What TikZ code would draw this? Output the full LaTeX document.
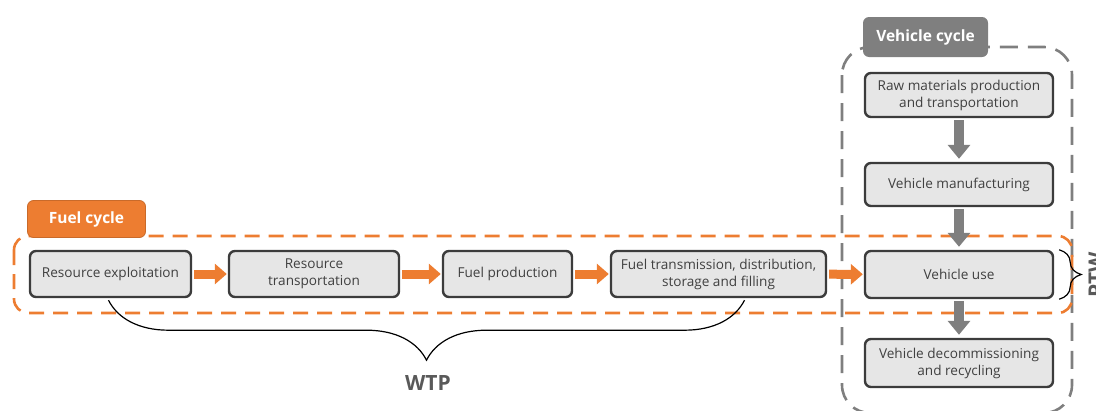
\documentclass[tikz,border=0pt]{standalone}
\usepackage{fontspec}
\setmainfont{Open Sans}
\usetikzlibrary{arrows.meta,positioning,decorations.pathreplacing}
\definecolor{fuelorange}{HTML}{ED7D31}
\definecolor{cyclegray}{HTML}{7F7F7F}
\definecolor{boxfill}{HTML}{E6E6E6}
\definecolor{boxline}{HTML}{3C3C3C}
\definecolor{boxtext}{HTML}{404040}
\definecolor{bracetext}{HTML}{595959}

\begin{document}
\begin{tikzpicture}[x=1pt,y=-1pt,
  stage/.style={draw=boxline, line width=2.4pt, fill=boxfill, rounded corners=6pt,
    text=boxtext, align=center, font=\fontsize{13.6}{17}\selectfont, inner sep=2pt},
  tag/.style={rounded corners=6pt, text=white, font=\fontsize{15.5}{18}\selectfont\bfseries, inner sep=0pt},
  fuelflow/.style={draw=fuelorange, line width=9pt, -{Triangle[width=20pt,length=12pt]}, shorten >=1pt, shorten <=2pt},
  vehflow/.style={draw=cyclegray, line width=10pt, -{Triangle[width=22pt,length=14pt]}, shorten >=3pt, shorten <=2pt},
  cycleframe/.style={line width=2.6pt, rounded corners=#1},
  curly/.style={decorate, decoration={brace,amplitude=#1}, line width=1.2pt}
]
\useasboundingbox (0,0) rectangle (1096,410);

% dashed cycle frames
\draw[cycleframe=28pt, cyclegray, dash pattern=on 18pt off 10pt] (842,47) rectangle (1072,413);
\draw[cycleframe=14pt, fuelorange, dash pattern=on 15pt off 9pt] (14,236) rectangle (1072,313);

\node[tag, fill=fuelorange, draw=fuelorange!85!black, line width=0.8pt,
  minimum width=118pt, minimum height=37pt] (fuel) at (86.5,219) {Fuel cycle};
\node[tag, fill=cyclegray, minimum width=125pt, minimum height=40pt] (veh) at (925.5,37) {Vehicle cycle};

% fuel cycle stages
\node[stage, minimum width=161pt, minimum height=46pt] (re) at (110.5,274) {Resource exploitation};
\node[stage, minimum width=170pt, minimum height=46pt] (rt) at (314,274) {Resource\\transportation};
\node[stage, minimum width=129pt, minimum height=46pt] (fp) at (507.5,274) {Fuel production};
\node[stage, minimum width=215pt, minimum height=46pt] (ft) at (718.5,274) {Fuel transmission, distribution,\\storage and filling};

% vehicle cycle stages
\node[stage, minimum width=188pt, minimum height=44pt] (rm) at (959,95) {Raw materials production\\and transportation};
\node[stage, minimum width=188pt, minimum height=43pt] (vm) at (959,184.5) {Vehicle manufacturing};
\node[stage, minimum width=188pt, minimum height=47pt] (vu) at (959,274.5) {Vehicle use};
\node[stage, minimum width=188pt, minimum height=48pt] (vd) at (959,363) {Vehicle decommissioning\\and recycling};

\draw[fuelflow] (re) -- (rt);
\draw[fuelflow] (rt) -- (fp);
\draw[fuelflow] (fp) -- (ft);
\draw[fuelflow] (ft) -- (vu);

\draw[vehflow] (rm) -- (vm);
\draw[vehflow] (vm) -- (vu);
\draw[vehflow] (vu) -- (vd);

% braces
\draw[curly=60pt] ([xshift=26pt,yshift=-2pt]ft.south) -- ([xshift=-2pt,yshift=-2pt]re.south);
\node[font=\fontsize{21}{24}\selectfont\bfseries, text=bracetext] (wtp) at (428,383) {WTP};
\draw[curly=22pt] ([xshift=5pt]vu.north east) -- ([xshift=5pt]vu.south east);
\node[font=\fontsize{21}{24}\selectfont\bfseries, text=bracetext, rotate=90, inner sep=0pt] (ptw) at (1096,275) {PTW};
\end{tikzpicture}
\end{document}
